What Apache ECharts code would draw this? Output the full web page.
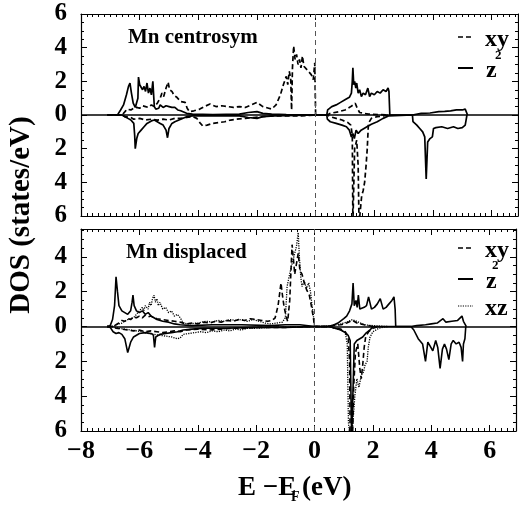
<!DOCTYPE html>
<html>
<head>
<meta charset="utf-8">
<script src="https://cdn.jsdelivr.net/npm/echarts@6/dist/echarts.min.js"></script>
<style>
  html, body { margin: 0; padding: 0; background: #fff; }
  #EChart_dos { width: 519px; height: 506px; }
</style>
</head>
<body>
<div id="EChart_dos"></div>
<script>
// energy axis (E - E_F, eV)
const xTicks = [-8, -6, -4, -2, 0, 2, 4, 6]
const orbitals = ['xy', 'z²', 'xz']

// Mn centrosym panel: [E, DOS]  (spin up > 0, spin down < 0)
const centXyUp = [[-7.1,0],[-6.6,0],[-6.5,0.2],[-6.43,0.35],[-6.3,0.3],[-6.2,0.4],[-6.1,0.45],[-6.0,0.4],[-5.9,0.55],[-5.8,0.5],[-5.7,0.45],[-5.6,0.6],[-5.5,0.5],[-5.4,0.7],[-5.3,1.0],[-5.24,1.3],[-5.18,1.1],[-5.1,1.6],[-5.03,1.95],[-4.98,1.5],[-4.9,1.4],[-4.82,1.15],[-4.73,1.05],[-4.6,0.8],[-4.45,0.75],[-4.38,0.4],[-4.3,0.2],[-4.15,0.25],[-3.95,0.35],[-3.8,0.5],[-3.6,0.65],[-3.4,0.5],[-3.2,0.55],[-3.0,0.5],[-2.8,0.45],[-2.6,0.5],[-2.4,0.45],[-2.2,0.6],[-2.0,0.75],[-1.8,0.5],[-1.6,0.4],[-1.5,0.35],[-1.35,0.6],[-1.2,1.2],[-1.1,1.8],[-1.0,2.3],[-0.95,1.8],[-0.9,2.6],[-0.85,2.2],[-0.82,0.3],[-0.79,2.8],[-0.75,4.1],[-0.7,3.3],[-0.65,3.6],[-0.6,3.0],[-0.55,3.3],[-0.5,2.8],[-0.45,3.5],[-0.4,2.9],[-0.35,3.0],[-0.25,2.6],[-0.15,2.4],[-0.08,2.1],[-0.03,3.1],[0,0],[0.4,0],[0.5,0.1],[0.8,0.2],[1.0,0.3],[1.2,0.5],[1.35,0.7],[1.42,0.4],[1.5,0.15],[1.8,0.05],[2.5,0]]
const centXyDn = [[-7.1,0],[-6.6,0],[-6.5,-0.1],[-6.3,-0.15],[-6.2,-0.25],[-6.0,-0.2],[-5.8,-0.3],[-5.6,-0.25],[-5.4,-0.3],[-5.2,-0.25],[-5.0,-0.3],[-4.8,-0.2],[-4.6,-0.2],[-4.4,-0.15],[-4.2,-0.1],[-4.05,-0.2],[-3.95,-0.45],[-3.85,-0.65],[-3.7,-0.6],[-3.5,-0.5],[-3.3,-0.45],[-3.1,-0.4],[-2.9,-0.3],[-2.7,-0.25],[-2.4,-0.2],[-2.1,-0.15],[-1.8,-0.1],[-1.4,-0.05],[-0.5,-0.05],[0,0],[0.4,0],[0.5,-0.1],[0.7,-0.2],[0.9,-0.3],[1.1,-0.45],[1.2,-0.6],[1.25,-1.2],[1.27,-6.5],[1.3,-6.5],[1.33,-2.0],[1.4,-1.5],[1.45,-3.0],[1.48,-6.5],[1.53,-6.5],[1.57,-4.8],[1.62,-4.5],[1.67,-4.0],[1.72,-3.0],[1.76,-2.0],[1.8,-0.5],[1.9,-0.2],[2.1,-0.1],[2.5,0]]
const centZUp = [[-7.1,0],[-6.75,0.02],[-6.65,0.3],[-6.55,0.6],[-6.45,1.2],[-6.38,1.7],[-6.33,1.9],[-6.28,1.3],[-6.22,0.7],[-6.15,0.45],[-6.1,0.5],[-6.06,1.0],[-6.04,2.25],[-6.0,1.8],[-5.95,1.9],[-5.9,1.5],[-5.85,1.7],[-5.8,1.4],[-5.75,1.9],[-5.7,1.3],[-5.65,1.6],[-5.6,1.2],[-5.55,2.0],[-5.5,0.5],[-5.45,0.35],[-5.35,0.4],[-5.3,0.6],[-5.2,0.45],[-5.1,0.55],[-5.0,0.5],[-4.9,0.45],[-4.8,0.45],[-4.7,0.3],[-4.6,0.25],[-4.4,0.1],[-4.2,0.05],[-3.5,0.03],[-2.6,0.05],[-2.3,0.15],[-2.0,0.2],[-1.8,0.1],[-1.5,0.05],[-1.0,0.03],[0,0],[0.38,0],[0.41,0.3],[0.45,0.4],[0.55,0.5],[0.7,0.6],[0.85,0.75],[1.0,0.9],[1.15,1.05],[1.22,1.3],[1.25,2.0],[1.27,2.8],[1.3,1.8],[1.33,2.0],[1.37,1.6],[1.4,1.9],[1.45,1.3],[1.5,1.5],[1.56,1.1],[1.62,1.3],[1.7,1.2],[1.78,1.6],[1.84,1.1],[1.9,1.3],[2.0,1.2],[2.1,1.4],[2.2,1.3],[2.3,1.5],[2.4,1.4],[2.47,1.6],[2.5,1.4],[2.53,0],[3.3,0],[3.35,0.08],[3.6,0.1],[3.9,0.12],[4.2,0.2],[4.4,0.22],[4.6,0.25],[4.8,0.3],[5.0,0.3],[5.1,0.35],[5.15,0.3],[5.18,0]]
const centZDn = [[-7.1,0],[-6.6,0],[-6.5,-0.1],[-6.4,-0.2],[-6.3,-0.3],[-6.2,-0.5],[-6.17,-1.2],[-6.15,-2.0],[-6.1,-1.4],[-6.05,-1.1],[-5.95,-0.9],[-5.85,-0.7],[-5.75,-0.5],[-5.6,-0.35],[-5.5,-0.3],[-5.4,-0.4],[-5.3,-0.5],[-5.2,-0.6],[-5.1,-0.9],[-5.05,-1.35],[-5.0,-0.8],[-4.9,-0.5],[-4.8,-0.4],[-4.6,-0.25],[-4.4,-0.1],[-4.2,-0.05],[-2.6,-0.05],[-2.3,-0.15],[-2.0,-0.2],[-1.8,-0.1],[-1.4,-0.05],[0,0],[0.38,0],[0.4,-0.25],[0.5,-0.4],[0.7,-0.5],[0.9,-0.6],[1.05,-0.7],[1.15,-0.9],[1.22,-1.3],[1.27,-1.1],[1.32,-1.4],[1.38,-0.9],[1.45,-1.1],[1.55,-0.9],[1.65,-0.8],[1.75,-0.7],[1.9,-0.55],[2.1,-0.4],[2.3,-0.2],[2.5,-0.05],[2.53,0],[3.3,0],[3.32,-0.4],[3.45,-0.6],[3.55,-0.8],[3.65,-1.0],[3.72,-1.3],[3.77,-3.8],[3.82,-1.6],[3.9,-1.4],[3.98,-1.3],[4.02,-0.8],[4.1,-0.75],[4.3,-0.7],[4.5,-0.8],[4.7,-0.7],[4.85,-0.8],[5.0,-0.75],[5.1,-0.6],[5.13,-0.3],[5.16,0]]

// Mn displaced panel
const dispXyUp = [[-7.1,0],[-6.9,0],[-6.8,0.1],[-6.7,0.2],[-6.6,0.35],[-6.5,0.3],[-6.4,0.45],[-6.3,0.4],[-6.2,0.55],[-6.1,0.5],[-6.0,0.6],[-5.9,0.5],[-5.8,0.65],[-5.7,0.55],[-5.6,0.6],[-5.5,0.5],[-5.4,0.45],[-5.2,0.4],[-5.0,0.35],[-4.8,0.3],[-4.6,0.25],[-4.4,0.15],[-4.2,0.2],[-4.0,0.15],[-3.8,0.25],[-3.6,0.2],[-3.4,0.3],[-3.2,0.25],[-3.0,0.35],[-2.8,0.3],[-2.6,0.4],[-2.4,0.35],[-2.2,0.45],[-2.0,0.4],[-1.8,0.35],[-1.6,0.3],[-1.45,0.35],[-1.35,0.5],[-1.25,1.2],[-1.15,2.5],[-1.1,1.8],[-1.05,1.2],[-0.98,0.6],[-0.92,0.3],[-0.85,1.5],[-0.8,3.5],[-0.77,4.7],[-0.72,3.8],[-0.68,3.0],[-0.62,3.6],[-0.56,4.2],[-0.5,3.2],[-0.43,3.0],[-0.35,2.5],[-0.27,2.1],[-0.18,1.8],[-0.1,1.1],[-0.04,0.5],[0,0],[0.4,0],[0.6,0.05],[0.9,0.1],[1.1,0.2],[1.3,0.35],[1.45,0.2],[1.7,0.1],[2.0,0]]
const dispXyDn = [[-7.1,0],[-6.9,0],[-6.8,-0.1],[-6.6,-0.15],[-6.4,-0.2],[-6.2,-0.25],[-6.0,-0.2],[-5.8,-0.3],[-5.6,-0.25],[-5.4,-0.3],[-5.2,-0.35],[-5.0,-0.3],[-4.8,-0.25],[-4.6,-0.3],[-4.4,-0.2],[-4.0,-0.15],[-3.6,-0.2],[-3.2,-0.15],[-2.8,-0.1],[-2.4,-0.1],[-2.0,-0.05],[-1.0,-0.05],[0,0],[0.5,0],[0.7,-0.1],[0.9,-0.15],[1.05,-0.3],[1.15,-0.6],[1.2,-2.0],[1.22,-6.5],[1.3,-6.5],[1.34,-3.5],[1.4,-1.5],[1.48,-1.0],[1.55,-2.4],[1.6,-3.0],[1.65,-2.2],[1.7,-1.2],[1.75,-0.6],[1.85,-0.3],[2.0,-0.1],[2.2,0]]
const dispZUp = [[-7.1,0],[-7.0,0.05],[-6.92,0.4],[-6.85,1.2],[-6.8,2.85],[-6.75,2.0],[-6.7,1.2],[-6.6,0.9],[-6.5,0.8],[-6.4,0.7],[-6.3,0.9],[-6.25,1.4],[-6.22,1.8],[-6.18,1.2],[-6.1,0.9],[-6.0,0.8],[-5.9,0.9],[-5.8,0.7],[-5.7,0.8],[-5.6,0.6],[-5.5,0.5],[-5.4,0.4],[-5.2,0.3],[-5.0,0.25],[-4.8,0.15],[-4.6,0.1],[-4.2,0.05],[-3.5,0.1],[-2.5,0.1],[-1.5,0.05],[-1.0,0.1],[-0.5,0.1],[0,0],[0.4,0],[0.6,0.05],[0.8,0.2],[1.0,0.45],[1.1,0.6],[1.2,0.9],[1.28,1.3],[1.32,2.5],[1.36,1.2],[1.42,1.5],[1.46,1.1],[1.5,1.8],[1.55,1.0],[1.6,1.0],[1.7,1.1],[1.78,1.2],[1.85,1.7],[1.95,1.0],[2.05,1.1],[2.15,1.3],[2.25,1.6],[2.35,1.0],[2.45,1.1],[2.55,1.3],[2.65,1.5],[2.72,1.7],[2.76,1.0],[2.78,0],[3.3,0],[3.5,0.05],[3.8,0.1],[4.0,0.15],[4.2,0.2],[4.4,0.45],[4.5,0.25],[4.7,0.3],[4.9,0.35],[5.05,0.6],[5.1,0.3],[5.2,0]]
const dispZDn = [[-7.1,0],[-7.0,-0.05],[-6.9,-0.3],[-6.8,-0.4],[-6.7,-0.35],[-6.6,-0.45],[-6.5,-0.7],[-6.45,-1.1],[-6.4,-1.5],[-6.35,-1.2],[-6.3,-0.9],[-6.2,-0.6],[-6.1,-0.5],[-6.0,-0.4],[-5.8,-0.35],[-5.6,-0.4],[-5.52,-0.5],[-5.48,-1.2],[-5.44,-0.6],[-5.3,-0.45],[-5.1,-0.4],[-4.9,-0.35],[-4.7,-0.3],[-4.5,-0.2],[-4.2,-0.15],[-3.8,-0.1],[-3.0,-0.1],[-2.0,-0.05],[-1.0,-0.05],[0,0],[0.5,0],[0.7,-0.1],[0.9,-0.2],[1.05,-0.35],[1.15,-0.5],[1.22,-0.8],[1.27,-6.5],[1.32,-6.5],[1.36,-1.0],[1.45,-0.8],[1.55,-0.7],[1.65,-0.6],[1.75,-0.4],[1.9,-0.2],[2.0,0],[3.3,0],[3.4,-0.2],[3.55,-0.7],[3.7,-1.0],[3.8,-2.0],[3.88,-0.9],[3.95,-1.1],[4.05,-1.4],[4.15,-0.8],[4.22,-1.2],[4.3,-2.4],[4.38,-1.3],[4.45,-1.0],[4.52,-1.3],[4.6,-1.9],[4.68,-1.0],[4.75,-0.8],[4.85,-1.0],[4.95,-0.9],[5.02,-1.2],[5.07,-2.0],[5.1,-1.0],[5.15,-0.7],[5.18,0]]
const dispXzUp = [[-7.1,0],[-6.9,0],[-6.8,0.1],[-6.6,0.2],[-6.4,0.4],[-6.2,0.5],[-6.1,0.7],[-6.0,0.9],[-5.9,1.1],[-5.85,0.9],[-5.8,1.2],[-5.7,1.0],[-5.65,1.4],[-5.6,1.2],[-5.55,1.6],[-5.5,1.8],[-5.45,1.4],[-5.4,1.6],[-5.35,1.2],[-5.3,1.4],[-5.2,1.0],[-5.1,1.1],[-5.0,0.8],[-4.9,0.9],[-4.8,0.6],[-4.7,0.7],[-4.6,0.5],[-4.55,0.6],[-4.5,0.2],[-4.3,0.15],[-4.0,0.2],[-3.7,0.3],[-3.5,0.25],[-3.3,0.35],[-3.1,0.3],[-2.9,0.4],[-2.7,0.35],[-2.5,0.4],[-2.3,0.3],[-2.1,0.4],[-1.9,0.3],[-1.7,0.2],[-1.5,0.15],[-1.3,0.2],[-1.1,0.25],[-1.0,0.5],[-0.94,2.3],[-0.88,2.8],[-0.8,3.4],[-0.71,4.0],[-0.62,4.6],[-0.56,5.4],[-0.52,4.0],[-0.47,2.8],[-0.43,2.3],[-0.35,2.6],[-0.28,2.2],[-0.2,2.5],[-0.14,2.0],[-0.1,1.4],[-0.05,0.8],[0,0],[0.4,0],[0.6,0.05],[0.9,0.15],[1.1,0.25],[1.3,0.4],[1.5,0.25],[1.7,0.1],[2.0,0.05],[2.5,0]]
const dispXzDn = [[-7.1,0],[-6.9,0],[-6.7,-0.1],[-6.5,-0.15],[-6.3,-0.2],[-6.1,-0.25],[-5.9,-0.3],[-5.7,-0.4],[-5.5,-0.45],[-5.3,-0.5],[-5.1,-0.55],[-4.9,-0.6],[-4.7,-0.7],[-4.6,-0.65],[-4.5,-0.45],[-4.3,-0.4],[-4.1,-0.35],[-3.9,-0.3],[-3.7,-0.35],[-3.5,-0.25],[-3.3,-0.3],[-3.1,-0.2],[-2.9,-0.25],[-2.7,-0.15],[-2.5,-0.2],[-2.3,-0.1],[-2.0,-0.1],[-1.5,-0.05],[0,0],[0.5,0],[0.7,-0.1],[0.9,-0.2],[1.05,-0.35],[1.12,-1.0],[1.16,-5.5],[1.2,-6.2],[1.27,-6.5],[1.33,-6.5],[1.38,-4.0],[1.45,-3.0],[1.52,-3.5],[1.6,-2.8],[1.68,-2.6],[1.73,-2.2],[1.8,-2.0],[1.84,-1.2],[1.9,-0.6],[2.0,-0.3],[2.2,-0.1],[2.5,0]]

const FONT = "'Liberation Serif', 'Times New Roman', serif"
const DASH = [5, 3]
const DOT = [1.2, 1.2]

let EChart = echarts.init(document.getElementById('EChart_dos'))

function xAx(grid, pos, showLabel) {
  return {
    type: 'value', gridIndex: grid, position: pos, min: -8, max: 6.9, interval: 2,
    axisLine: { show: true, onZero: false, lineStyle: { color: '#000', width: 1.2 } },
    axisTick: { show: true, inside: true, length: 6, lineStyle: { color: '#000' } },
    minorTick: { show: true, splitNumber: 10, length: 3, lineStyle: { color: '#000' } },
    splitLine: { show: false },
    axisLabel: {
      show: showLabel, color: '#000', fontFamily: FONT, fontWeight: 'bold', fontSize: 26, margin: 7,
      formatter: (v) => xTicks.indexOf(v) >= 0 ? String(v).replace('-', '\u2212') : ''
    }
  }
}
function yAx(grid, pos, max, showLabel) {
  return {
    type: 'value', gridIndex: grid, position: pos, min: -6, max: max, interval: 2,
    axisLine: { show: true, onZero: false, lineStyle: { color: '#000', width: 1.2 } },
    axisTick: { show: true, inside: true, length: 6, lineStyle: { color: '#000' } },
    minorTick: { show: true, splitNumber: 4, length: 3, lineStyle: { color: '#000' } },
    splitLine: { show: false },
    axisLabel: {
      show: showLabel, color: '#000', fontFamily: FONT, fontWeight: 'bold', fontSize: 25, margin: 14,
      formatter: (v) => Math.abs(v) % 2 === 0 ? String(Math.abs(v)) : ''
    }
  }
}
function line(name, data, xi, yi, type, width) {
  return {
    name: name, type: 'line', data: data, xAxisIndex: xi, yAxisIndex: yi,
    symbol: 'none', clip: true, animation: false, silent: true,
    lineStyle: { color: '#000', width: width, type: type }
  }
}
function refLines() {
  return {
    silent: true, symbol: 'none', label: { show: false }, animation: false,
    data: [
      { yAxis: 0, lineStyle: { color: '#000', width: 1.5, type: 'solid' } },
      { xAxis: 0, lineStyle: { color: '#555', width: 1, type: [5, 4] } }
    ]
  }
}

let series = [
  line(orbitals[1], centZUp, 0, 0, 'solid', 1.7),
  line(orbitals[1], centZDn, 0, 0, 'solid', 1.7),
  line(orbitals[0], centXyUp, 0, 0, DASH, 1.7),
  line(orbitals[0], centXyDn, 0, 0, DASH, 1.7),
  line(orbitals[1], dispZUp, 2, 2, 'solid', 1.6),
  line(orbitals[1], dispZDn, 2, 2, 'solid', 1.6),
  line(orbitals[0], dispXyUp, 2, 2, DASH, 1.6),
  line(orbitals[0], dispXyDn, 2, 2, DASH, 1.6),
  line(orbitals[2], dispXzUp, 2, 2, DOT, 1.3),
  line(orbitals[2], dispXzDn, 2, 2, DOT, 1.3)
]
series[0].markLine = refLines()
series[4].markLine = refLines()

function txt(x, y, s, size, extra) {
  return {
    type: 'text', x: x, y: y, silent: true,
    style: Object.assign({ text: s, fill: '#000', font: 'bold ' + size + 'px ' + FONT, textVerticalAlign: 'middle' }, extra || {})
  }
}
function sample(x, y, dash, w) {
  return { type: 'line', silent: true, shape: { x1: x, y1: y, x2: x + 15, y2: y }, style: { stroke: '#000', lineWidth: w, lineDash: dash } }
}

let yTitle = txt(22, 215, 'DOS (states/eV)', 29, { textAlign: 'center' })
yTitle.rotation = Math.PI / 2

let option = {
  backgroundColor: '#fff',
  animation: false,
  grid: [
    { left: 81, top: 14, width: 437, height: 202 },
    { left: 81, top: 229, width: 437, height: 202 }
  ],
  xAxis: [xAx(0, 'bottom', false), xAx(0, 'top', false), xAx(1, 'bottom', true), xAx(1, 'top', false)],
  yAxis: [yAx(0, 'left', 6, true), yAx(0, 'right', 6, false), yAx(1, 'left', 5.6, true), yAx(1, 'right', 5.6, false)],
  series: series,
  graphic: [
    txt(128, 38, 'Mn centrosym', 21),
    txt(126, 253, 'Mn displaced', 21),
    // legend, top panel
    sample(458, 37, DASH, 1.6), txt(485, 40, orbitals[0], 24),
    sample(458, 68, null, 2), txt(486, 71, 'z', 24), txt(495, 56, '2', 13),
    // legend, bottom panel
    sample(458, 248, DASH, 1.6), txt(485, 251, orbitals[0], 24),
    sample(458, 279, null, 2), txt(486, 282, 'z', 24), txt(492, 266, '2', 13),
    sample(458, 306, DOT, 1.2), txt(485, 309, orbitals[2], 24),
    // axis titles
    yTitle,
    txt(238, 488, 'E \u2212E', 27),
    txt(291, 497, 'F', 14),
    txt(302, 488, '(eV)', 27)
  ]
}

EChart.setOption(option)
</script>
</body>
</html>
